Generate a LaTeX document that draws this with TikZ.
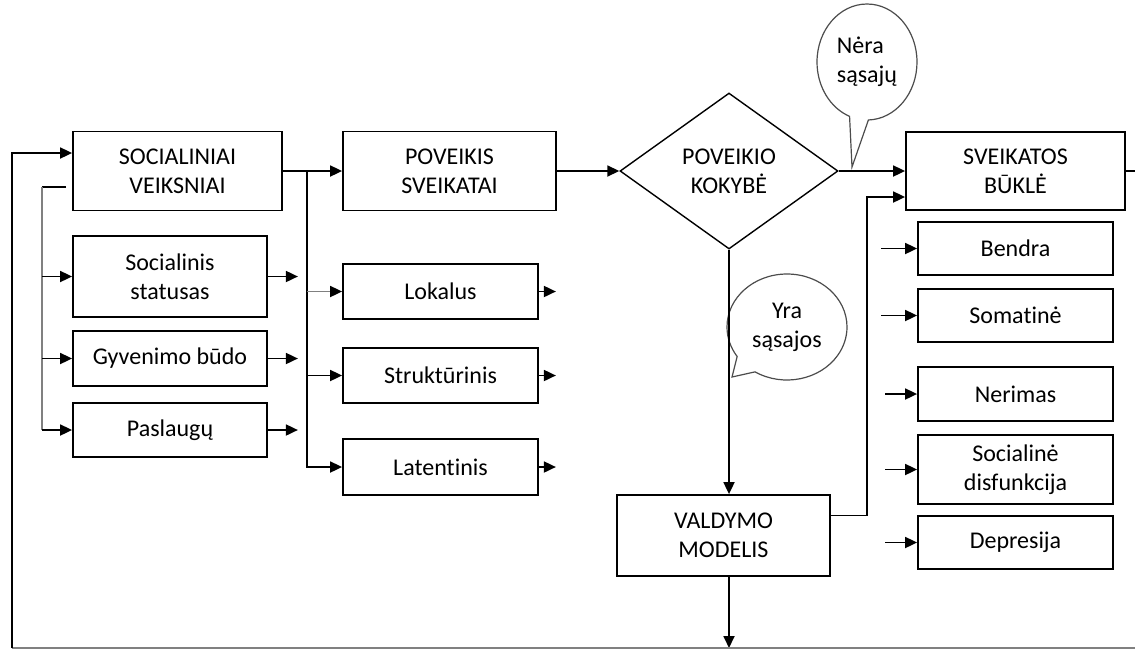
\documentclass[tikz,border=0pt]{standalone}
\usepackage{fontspec}
\setmainfont{Carlito}[Ligatures=NoCommon]
\usepackage{tikz}
\usetikzlibrary{arrows.meta}
\usetikzlibrary{shapes.geometric}
\usetikzlibrary{shapes.callouts}

\tikzset{
    blokas/.style={draw, line width=0.9pt, align=center, inner sep=0pt, minimum width=97.5pt},
    rodykle/.style={line width=0.9pt, -{Triangle[length=6pt,width=5.5pt]}},
    burbulas/.style={ellipse callout, draw=black!70, line width=0.6pt, align=center, inner sep=0pt},
}

\begin{document}
\begin{tikzpicture}[x=0.5pt,y=-0.5pt,font=\fontsize{12}{14.5}\selectfont]
    \useasboundingbox (0,0) rectangle (1135,649);

    \node[blokas, minimum width=104.5pt, minimum height=39.5pt] (social) at (177.5,171) {SOCIALINIAI\\VEIKSNIAI};
    \node[blokas, minimum width=97pt, minimum height=40.5pt] (stat) at (170,276.5) {Socialinis\\statusas};
    \node[blokas, minimum width=97pt, minimum height=27.5pt] (gyv) at (170,358.5) {Gyvenimo būdo};
    \node[blokas, minimum width=97pt, minimum height=27pt] (pasl) at (170,430) {Paslaugų};

    \node[blokas, minimum width=106.5pt, minimum height=39.5pt] (poveik) at (449.5,171) {POVEIKIS\\SVEIKATAI};
    \node[blokas, minimum height=27.5pt] (lok) at (440.5,291.5) {Lokalus};
    \node[blokas, minimum height=27.5pt] (strukt) at (440.5,375.5) {Struktūrinis};
    \node[blokas, minimum height=28pt] (latent) at (440.5,467) {Latentinis};

    \node[diamond, draw, line width=0.7pt, align=center, inner sep=0pt, aspect=1.4,
          minimum width=109pt, minimum height=78pt] (kokybe) at (729,171) {POVEIKIO\\KOKYBĖ};
    \node[blokas, minimum width=106.5pt, minimum height=40.5pt] (valdym) at (723.5,535.5) {VALDYMO\\MODELIS};

    \node[blokas, minimum width=109.5pt, minimum height=39pt] (sveik) at (1015.5,171) {SVEIKATOS\\BŪKLĖ};
    \node[blokas, minimum height=26.5pt] (bendra) at (1015.5,248.5) {Bendra};
    \node[blokas, minimum height=26.5pt] (somat) at (1015.5,315.5) {Somatinė};
    \node[blokas, minimum height=27pt] (nerim) at (1015.5,394) {Nerimas};
    \node[blokas, minimum height=34.5pt] (socdis) at (1015.5,469.5) {Socialinė\\disfunkcija};
    \node[blokas, minimum height=26.5pt] (depr) at (1015.5,542.5) {Depresija};

    \coordinate (nera-tip) at (852,167);
    \coordinate (yra-tip) at (732,377);
    \node[burbulas, align=left, minimum width=50pt, minimum height=58pt,
          callout absolute pointer={(nera-tip)}, callout pointer arc=22] (nera) at (867,62) {Nėra\\sąsajų};
    \node[burbulas, minimum width=60pt, minimum height=53pt,
          callout absolute pointer={(yra-tip)}, callout pointer arc=24] (yra) at (787,327) {Yra\\sąsajos};

    \draw[rodykle] (social) -- (poveik);
    \coordinate (busA) at (307,171);
    \draw[rodykle] (busA) |- (latent);
    \draw[rodykle] (busA |- strukt) -- (strukt);
    \draw[rodykle, draw=gray, -{Triangle[length=6pt,width=5.5pt,color=black]}] (busA |- lok) -- (lok);

    \coordinate (sStart) at ([xshift=-3pt,yshift=-8pt]social.west);
    \coordinate (busL) at (42,187);
    \draw[line width=0.9pt] (sStart) -- (busL);
    \draw[gray, line width=1pt] (busL) -- (busL |- pasl);
    \foreach \n in {stat,gyv,pasl}
        \draw[rodykle] (busL |- \n) -- (\n);
    \foreach \n in {stat,gyv,pasl} {
        \coordinate (\n-out) at ([xshift=15pt]\n.east);
        \draw[rodykle] (\n) -- (\n-out);
    }
    \foreach \n in {lok,strukt,latent} {
        \coordinate (\n-out) at ([xshift=8.5pt]\n.east);
        \draw[rodykle] (\n) -- (\n-out);
    }

    \draw[rodykle] (poveik) -- (kokybe);
    \draw[rodykle] (kokybe) -- (sveik);
    \coordinate (outR) at (1135,171);
    \draw[line width=0.9pt] (sveik) -- (outR);

    \coordinate (upR) at (867,197);
    \draw[rodykle] ([yshift=10pt]valdym.east) -| (upR) -- (upR -| sveik.west);
    \foreach \n/\d in {bendra/18,somat/18,nerim/16,socdis/16,depr/16} {
        \coordinate (\n-in) at ([xshift=-\d pt]\n.west);
        \draw[rodykle] (\n-in) -- (\n);
    }

    \draw[rodykle] (kokybe.south) -- (kokybe.south |- valdym.north);
    \coordinate (loopL) at (12,648);
    \coordinate (loopR) at (1135,648);
    \draw[rodykle] (kokybe.south |- valdym.south) -- (kokybe.south |- loopL);
    \draw[gray, line width=0.6pt] (loopR) -- (loopL);
    \draw[rodykle] (loopL) |- ([yshift=9pt]social.west);
\end{tikzpicture}
\end{document}
